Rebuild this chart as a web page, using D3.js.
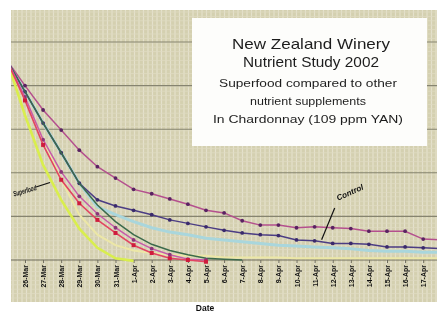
<!DOCTYPE html>
<html lang="en">
<head>
<meta charset="UTF-8">
<title>New Zealand Winery Nutrient Study 2002</title>
<script src="https://cdn.jsdelivr.net/npm/d3@7"></script>
<style>
  html, body { margin: 0; padding: 0; background: #fff; }
  svg { display: block; font-family: "Liberation Sans", Arial, sans-serif; }
</style>
</head>
<body>
<div id="chart"></div>
<script>
// day labels (first and last sit off the cropped edges)
var days = ["25-Mar", "26-Mar", "27-Mar", "28-Mar", "29-Mar", "30-Mar", "31-Mar", "1-Apr", "2-Apr", "3-Apr",
            "4-Apr", "5-Apr", "6-Apr", "7-Apr", "8-Apr", "9-Apr", "10-Apr", "11-Apr", "12-Apr", "13-Apr",
            "14-Apr", "15-Apr", "16-Apr", "17-Apr", "18-Apr"];

// Brix readings per series
var topSeries   = [22.9, 20.0, 17.2, 14.9, 12.6, 10.7, 9.4, 8.1, 7.6, 7.0, 6.4, 5.7, 5.4, 4.5, 4.0, 4.0, 3.7, 3.8, 3.7, 3.6, 3.3, 3.3, 3.3, 2.4, 2.3];
var control     = [22.9, 19.3, 15.7, 12.3, 8.8, 6.9, 6.2, 5.7, 5.2, 4.6, 4.2, 3.8, 3.4, 3.1, 2.9, 2.8, 2.3, 2.2, 1.9, 1.9, 1.8, 1.5, 1.5, 1.4, 1.3];
var paleBlue    = [22.9, 19.3, 15.7, 12.3, 8.8, 6.1, 5.2, 4.4, 3.7, 3.2, 2.9, 2.5, 2.3, 2.1, 1.9, 1.7, 1.6, 1.5, 1.4, 1.3, 1.1, 1.0, 1.0, 0.9, 0.9];
var paleYellow  = [22.9, 18.3, 13.8, 9.2, 5.2, 2.9, 1.7, 1.1, 0.8, 0.6, 0.5, 0.5, 0.3, 0.3, 0.3, 0.3, 0.2, 0.2, 0.2, 0.2, 0.2, 0.2, 0.2, 0.2, 0.2];
var green       = [22.9, 19.3, 15.7, 12.3, 8.8, 6.3, 4.4, 2.9, 1.8, 1.1, 0.6, 0.2, 0.1, 0.0];
var magenta     = [22.9, 18.7, 13.8, 10.1, 7.3, 5.3, 3.7, 2.3, 1.3, 0.6, 0.1, 0.0];
var red         = [22.9, 18.3, 13.2, 9.2, 6.5, 4.6, 3.1, 1.7, 0.8, 0.2, 0.0, -0.2];
var lime        = [22.9, 16.6, 10.9, 6.9, 3.6, 1.4, 0.2, -0.1];

var yTicks = [0, 5, 10, 15, 20, 25];

var titleLines = ["New Zealand Winery", "Nutrient Study 2002"];
var subLines = ["Superfood compared to other", "nutrient supplements", "In Chardonnay (109 ppm YAN)"];

var W = 437, H = 312;
var plot = { left: 11, top: 10, right: 437, bottom: 302 };

var svg = d3.select("#chart").append("svg")
    .attr("width", W)
    .attr("height", H);

var defs = svg.append("defs");
defs.append("clipPath").attr("id", "plotclip")
    .append("rect")
    .attr("x", plot.left).attr("y", plot.top)
    .attr("width", plot.right - plot.left).attr("height", plot.bottom - plot.top);
defs.append("filter").attr("id", "scan")
    .append("feGaussianBlur").attr("stdDeviation", 0.45);

var x = d3.scalePoint().domain(days).range([6.9, 6.9 + 18.1 * (days.length - 1)]);
var y = d3.scaleLinear().domain([0, 28.67]).range([260, 10]);

var g = svg.append("g").attr("clip-path", "url(#plotclip)").attr("filter", "url(#scan)");

// khaki background with fine grid texture
g.append("rect")
    .attr("x", plot.left).attr("y", plot.top)
    .attr("width", plot.right - plot.left).attr("height", plot.bottom - plot.top)
    .attr("fill", "#d4d0b0");

g.selectAll(".vminor").data(d3.range(plot.left + 2, plot.right, 4.5)).enter()
    .append("line")
    .attr("x1", d => d).attr("x2", d => d)
    .attr("y1", plot.top).attr("y2", plot.bottom)
    .attr("stroke", "#e4e1cc").attr("stroke-width", 1.2);

g.selectAll(".hminor").data(d3.range(plot.top + 2, plot.bottom, 4.4)).enter()
    .append("line")
    .attr("x1", plot.left).attr("x2", plot.right)
    .attr("y1", d => d).attr("y2", d => d)
    .attr("stroke", "#dedbc2").attr("stroke-width", 0.8);

// major grid lines
g.selectAll(".major").data(yTicks).enter()
    .append("line")
    .attr("x1", plot.left).attr("x2", plot.right)
    .attr("y1", d => y(d)).attr("y2", d => y(d))
    .attr("stroke", d => d === 0 ? "#6e6c5c" : "#86846f")
    .attr("stroke-width", 1.1);

// x axis ticks and rotated date labels (only those inside the cropped frame)
var shown = days.filter(d => x(d) > plot.left + 4 && x(d) < plot.right - 6);
var xAxis = d3.axisBottom(x).tickValues(shown).tickSize(3).tickSizeOuter(0);
var ax = g.append("g").attr("transform", "translate(0," + y(0) + ")").call(xAxis);
ax.select(".domain").remove();
ax.selectAll(".tick line").attr("stroke", "#6e6c5c");
ax.selectAll(".tick text")
    .attr("transform", "translate(2.5,5) rotate(-90)")
    .attr("x", 0).attr("y", 0).attr("dy", 0)
    .attr("text-anchor", "end")
    .style("font-size", "7px")
    .style("font-weight", "bold")
    .attr("fill", "#111");

// series
var series = [
    { name: "paleYellow", values: paleYellow, color: "#ece7a6", width: 2, marker: null },
    { name: "paleBlue", values: paleBlue, color: "#a9d6dc", width: 3, marker: null },
    { name: "lime", values: lime, color: "#d9ee4e", width: 2.6, marker: null },
    { name: "top", values: topSeries, color: "#b4508e", width: 1.5, marker: "dot", mcolor: "#5a2462" },
    { name: "control", values: control, color: "#4b3c84", width: 1.5, marker: "dot", mcolor: "#3a2b6c" },
    { name: "green", values: green, color: "#3b6a4c", width: 1.5, marker: null },
    { name: "magenta", values: magenta, color: "#c65aaa", width: 1.5, marker: "dot", mcolor: "#8a3478" },
    { name: "red", values: red, color: "#e24462", width: 1.6, marker: "square", mcolor: "#cf1f3e" }
];

var line = d3.line()
    .x((d, i) => x(days[i]))
    .y(d => y(d));

var sg = g.selectAll(".series").data(series).enter().append("g");

sg.append("path")
    .attr("d", d => line(d.values))
    .attr("fill", "none")
    .attr("stroke", d => d.color)
    .attr("stroke-width", d => d.width);

sg.filter(d => d.marker === "dot").selectAll("circle")
    .data(d => d.values.map((v, i) => ({ v: v, i: i, c: d.mcolor })))
    .enter().append("circle")
    .attr("cx", d => x(days[d.i]))
    .attr("cy", d => y(d.v))
    .attr("r", 1.9)
    .attr("fill", d => d.c);

sg.filter(d => d.marker === "square").selectAll("rect")
    .data(d => d.values.map((v, i) => ({ v: v, i: i, c: d.mcolor })))
    .enter().append("rect")
    .attr("x", d => x(days[d.i]) - 2)
    .attr("y", d => y(d.v) - 2)
    .attr("width", 4).attr("height", 4)
    .attr("fill", d => d.c);

// hand-placed series callouts
g.append("line")
    .attr("x1", 36).attr("y1", 187).attr("x2", 50).attr("y2", 182.5)
    .attr("stroke", "#111").attr("stroke-width", 1.3);
g.append("text")
    .attr("transform", "translate(37,190) rotate(-16)")
    .attr("text-anchor", "end")
    .attr("textLength", 24)
    .attr("lengthAdjust", "spacingAndGlyphs")
    .style("font-size", "7.5px").style("font-weight", "bold").style("font-style", "italic")
    .attr("fill", "#111")
    .text("Superfood");

g.append("line")
    .attr("x1", x(days[18]) + 2).attr("y1", 208).attr("x2", x(days[17]) + 7).attr("y2", y(control[17]) - 1)
    .attr("stroke", "#111").attr("stroke-width", 1.2);
g.append("text")
    .attr("transform", "translate(351,195) rotate(-24)")
    .attr("text-anchor", "middle")
    .style("font-size", "8px").style("font-weight", "bold").style("font-style", "italic")
    .attr("fill", "#111")
    .text("Control");

// title box
var tb = g.append("g");
tb.append("rect")
    .attr("x", 192).attr("y", 18).attr("width", 235).attr("height", 128)
    .attr("fill", "#fdfdfb");
var titleLen = [158, 136];
tb.selectAll(".t1").data(titleLines).enter().append("text")
    .attr("x", 311).attr("y", (d, i) => 49 + i * 18)
    .attr("text-anchor", "middle")
    .attr("textLength", (d, i) => titleLen[i])
    .attr("lengthAdjust", "spacingAndGlyphs")
    .style("font-size", "15px")
    .attr("fill", "#1e1e1e")
    .text(d => d);
var subLen = [178, 116, 190];
tb.selectAll(".t2").data(subLines).enter().append("text")
    .attr("x", 308).attr("y", (d, i) => 87 + i * 18)
    .attr("text-anchor", "middle")
    .attr("textLength", (d, i) => subLen[i])
    .attr("lengthAdjust", "spacingAndGlyphs")
    .style("font-size", "11px")
    .attr("fill", "#1e1e1e")
    .text(d => d);

// axis title at the very bottom
svg.append("text")
    .attr("x", 205).attr("y", 311)
    .attr("text-anchor", "middle")
    .attr("filter", "url(#scan)")
    .style("font-size", "8.5px").style("font-weight", "bold")
    .attr("fill", "#111")
    .text("Date");
</script>
</body>
</html>
